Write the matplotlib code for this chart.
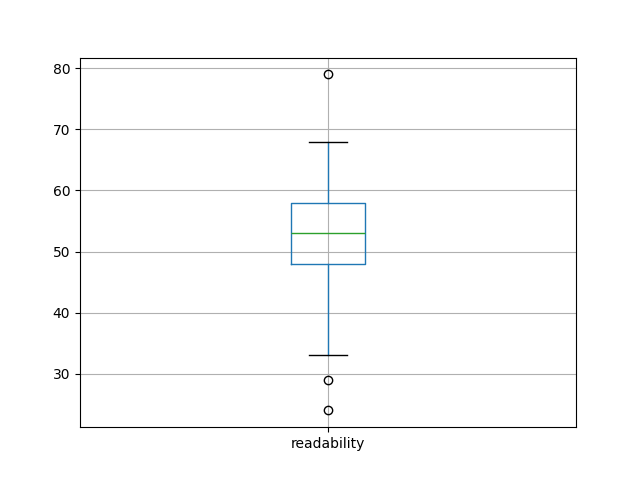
import matplotlib
matplotlib.use('Agg')
import matplotlib.pyplot as plt

# box statistics
label = 'readability'
q1 = 48
median = 53
q3 = 58
whisker_low = 33
whisker_high = 68
outliers = [79, 29, 24]

stats = [{
    'label': label,
    'q1': q1,
    'med': median,
    'q3': q3,
    'whislo': whisker_low,
    'whishi': whisker_high,
    'fliers': outliers,
}]

fig, ax = plt.subplots(figsize=(6.4, 4.8), dpi=100)
ax.bxp(stats,
       boxprops=dict(color='#1f77b4'),
       whiskerprops=dict(color='#1f77b4'),
       medianprops=dict(color='#2ca02c'),
       capprops=dict(color='black'),
       flierprops=dict(marker='o', markeredgecolor='black', markerfacecolor='none'))
ax.grid(True)
fig.savefig('out.png')
